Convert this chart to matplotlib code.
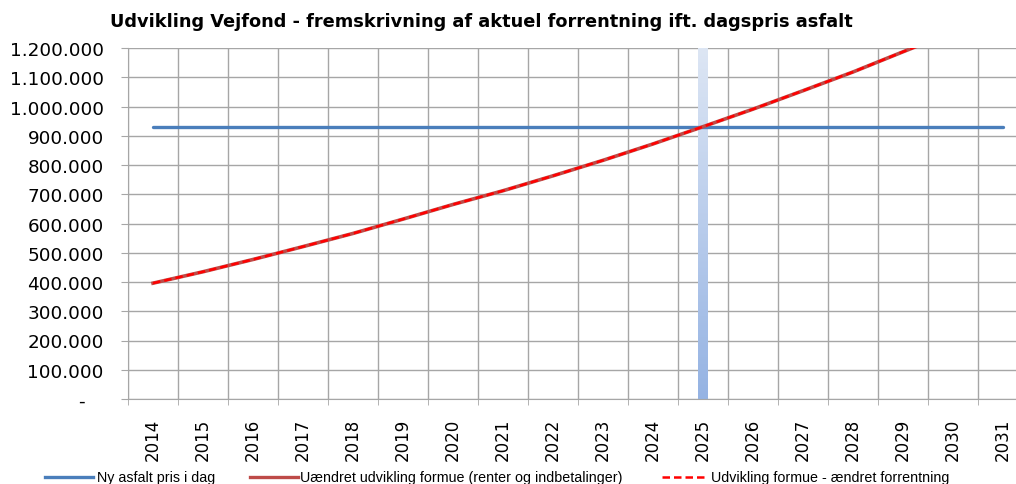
import numpy as np
import matplotlib
matplotlib.use("Agg")
import matplotlib.pyplot as plt
from matplotlib.lines import Line2D
from matplotlib import font_manager

years = [str(y) for y in range(2014, 2032)]
asfalt_pris = [931000] * 18
formue_uaendret = [396000, 435000, 477000, 521000, 566000, 615000, 665000, 712000,
                   763000, 816000, 872000, 931000, 991000, 1054000, 1118000, 1187000,
                   1255000, 1325000]
formue_aendret = list(formue_uaendret)
highlight_year = "2025"
highlight_value = 1200000
y_ticks = list(range(0, 1200001, 100000))
y_labels = ["-   "] + [f"{v:,}".replace(",", ".") for v in y_ticks[1:]]
legend_labels = ["Ny asfalt pris i dag",
                 "Uændret udvikling formue (renter og indbetalinger)",
                 "Udvikling formue - ændret forrentning"]
title = "Udvikling Vejfond - fremskrivning af aktuel forrentning ift. dagspris asfalt"

W, H = 1016, 485
fig = plt.figure(figsize=(W / 100, H / 100), dpi=100)
ax = fig.add_axes([128 / W, (H - 400) / H, 900 / W, 351 / H])

x = np.arange(len(years))
grid_c = "#a6a6a6"

# highlight bar with vertical gradient (light at top, darker at bottom)
hi = years.index(highlight_year)
bw = 0.2
bars = ax.bar([hi], [highlight_value], width=bw, color="none", zorder=2)
grad = np.linspace(0, 1, 256).reshape(-1, 1)
cmap = matplotlib.colors.LinearSegmentedColormap.from_list("g", ["#dde6f4", "#95b3e3"])
im = ax.imshow(grad, extent=[hi - bw / 2, hi + bw / 2, 0, highlight_value],
               aspect="auto", cmap=cmap, zorder=2, origin="upper")
im.set_clip_path(bars[0])

ax.plot(x, asfalt_pris, color="#4a7ebb", lw=2.4, solid_capstyle="round", zorder=3)
ax.plot(x, formue_uaendret, color="#be4b48", lw=2.6, zorder=4)
l3, = ax.plot(x, formue_aendret, color="#ff0000", lw=1.8, zorder=5)
l3.set_dashes([3.0, 1.6])

ax.set_xlim(-0.5, len(years) - 0.5)
ax.set_ylim(0, 1200000)
ax.set_yticks(y_ticks)
ax.set_yticklabels(y_labels)
ax.set_xticks(x)
ax.set_xticklabels(years, rotation=90)
ax.set_xticks(np.arange(-0.5, len(years), 1), minor=True)
ax.tick_params(axis="x", which="major", length=0, pad=13.7, labelsize=12)
ax.tick_params(axis="x", which="minor", length=4, color=grid_c, direction="out")
ax.tick_params(axis="y", length=5, color=grid_c, pad=12.5, labelsize=13.2)
ax.grid(axis="y", color=grid_c, lw=1)
ax.grid(axis="x", which="minor", color=grid_c, lw=1)
for s in ["top", "right"]:
    ax.spines[s].set_visible(False)
for s in ["left", "bottom"]:
    ax.spines[s].set_color(grid_c)
ax.set_axisbelow(True)

fig.text(481 / W, 1 - 22 / H, title, ha="center", va="center",
         fontsize=12.8, fontweight="bold")

# legend (manual)
avail = {f.name for f in font_manager.fontManager.ttflist}
lfont = "Liberation Sans Narrow" if "Liberation Sans Narrow" in avail else "Liberation Sans"
ly = 1 - 478 / H
items = [(45, 93, 97, dict(color="#4a7ebb", lw=2.4)),
         (250, 298, 300, dict(color="#be4b48", lw=2.4)),
         (662, 706, 711, dict(color="#ff0000", lw=1.8, dashes=[3.0, 1.6]))]
for (x0, x1, tx, kw), lab in zip(items, legend_labels):
    fig.add_artist(Line2D([x0 / W, x1 / W], [ly, ly], transform=fig.transFigure, **kw))
    fig.text(tx / W, ly, lab, ha="left", va="center", fontsize=10.3, family=lfont)

fig.savefig("out.png", dpi=100)
